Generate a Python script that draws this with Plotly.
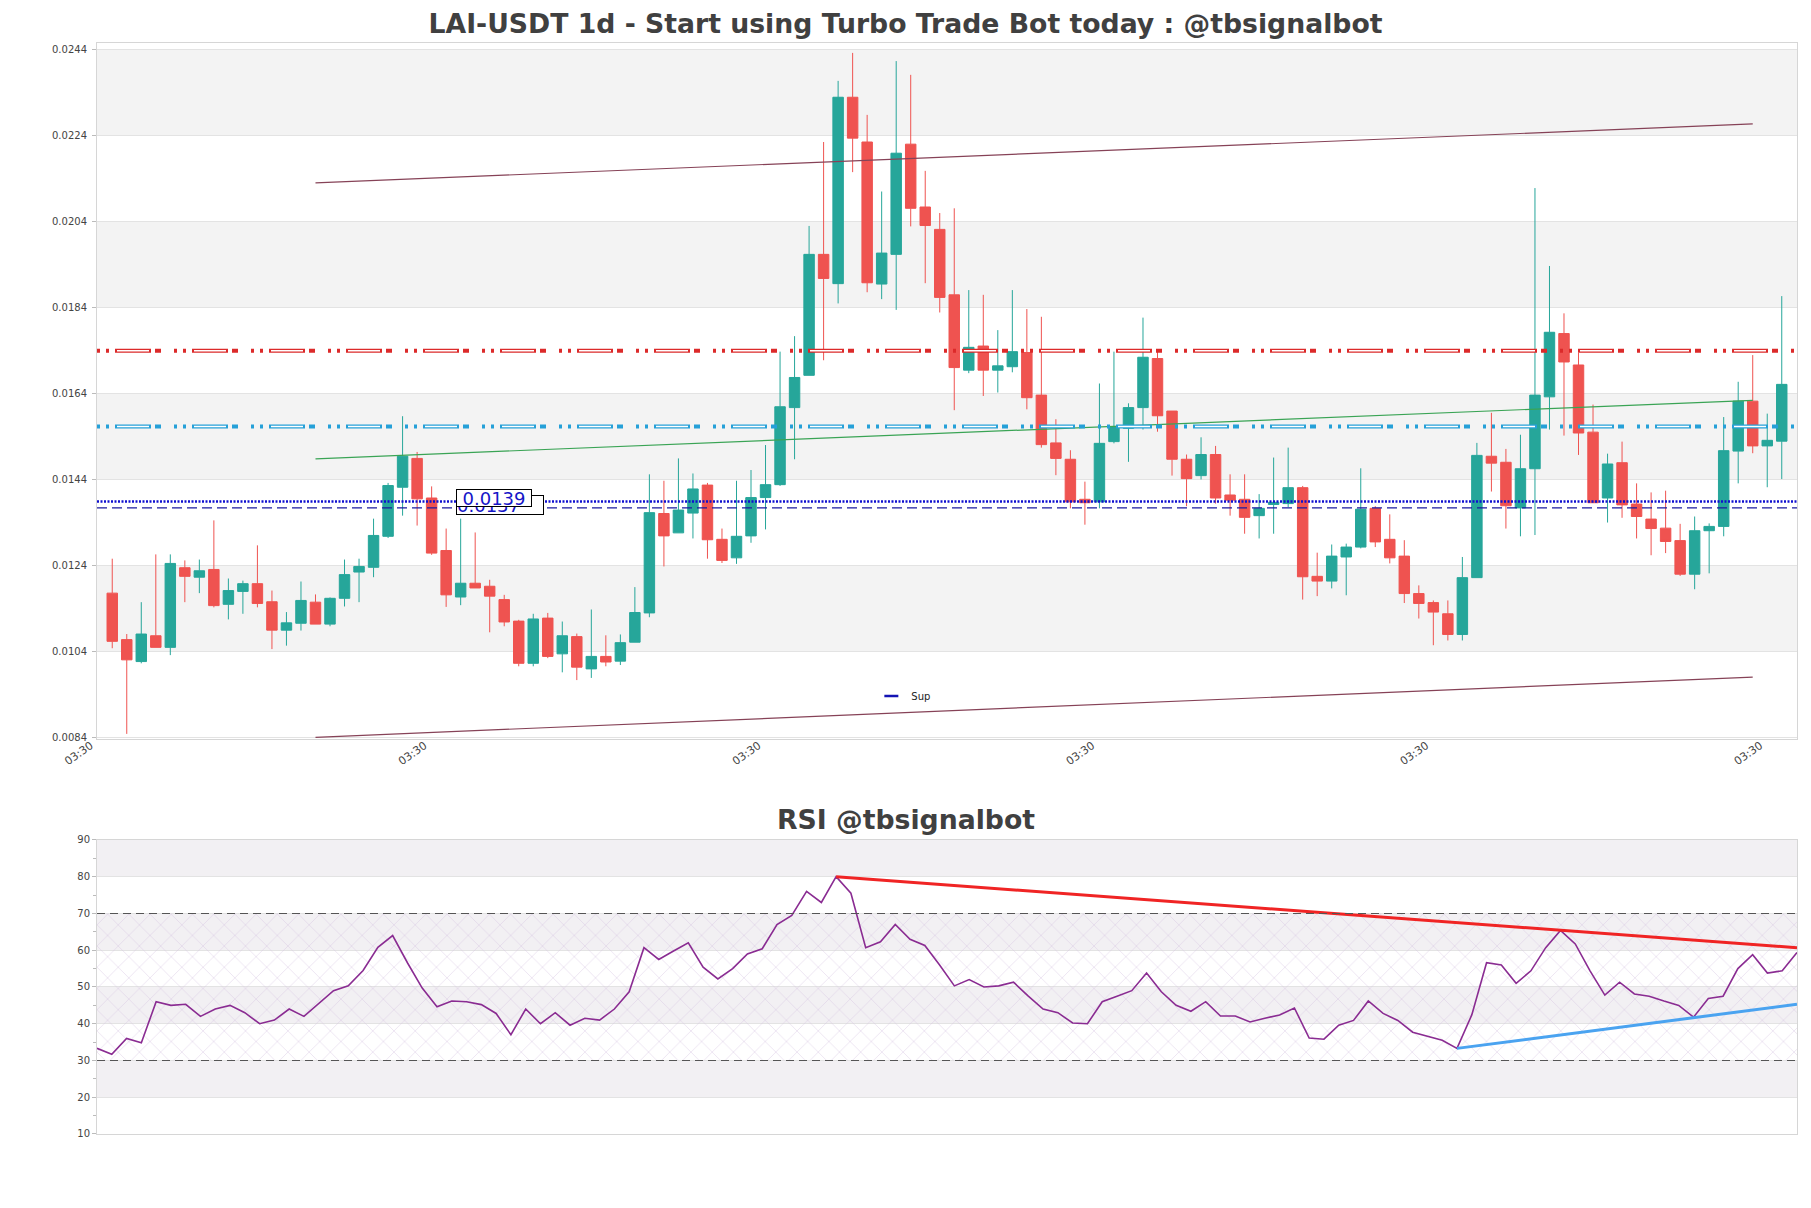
import plotly.graph_objects as go

# -------------------------------------
# Daily candles (index 0..115)
# -------------------------------------
opens = [0.01176, 0.01068, 0.01017, 0.01077, 0.01050, 0.01235, 0.01213, 0.01231, 0.01150, 0.01180,
         0.01198, 0.01156, 0.01090, 0.01106, 0.01155, 0.01104, 0.01164, 0.01225, 0.01236, 0.01308,
         0.01422, 0.01489, 0.01397, 0.01275, 0.01167, 0.01199, 0.01192, 0.01161, 0.01111, 0.01013,
         0.01118, 0.01035, 0.01075, 0.01000, 0.01029, 0.01018, 0.01062, 0.01130, 0.01361, 0.01316,
         0.01362, 0.01427, 0.01301, 0.01258, 0.01309, 0.01398, 0.01428, 0.01607, 0.01682, 0.01963,
         0.01895, 0.02328, 0.02224, 0.01894, 0.01963, 0.02219, 0.02073, 0.02021, 0.01869, 0.01694,
         0.01750, 0.01694, 0.01702, 0.01735, 0.01636, 0.01525, 0.01487, 0.01394, 0.01388, 0.01528,
         0.01559, 0.01607, 0.01721, 0.01599, 0.01487, 0.01449, 0.01498, 0.01404, 0.01394, 0.01356,
         0.01382, 0.01384, 0.01421, 0.01215, 0.01204, 0.01260, 0.01283, 0.01373, 0.01301, 0.01262,
         0.01175, 0.01154, 0.01128, 0.01080, 0.01212, 0.01494, 0.01480, 0.01374, 0.01465, 0.01632,
         0.01779, 0.01706, 0.01550, 0.01397, 0.01479, 0.01383, 0.01348, 0.01327, 0.01298, 0.01220,
         0.01321, 0.01331, 0.01506, 0.01622, 0.01518, 0.01529]
highs = [0.01256, 0.01081, 0.01155, 0.01266, 0.01266, 0.01252, 0.01254, 0.01345, 0.01210, 0.01205,
         0.01287, 0.01182, 0.01132, 0.01203, 0.01173, 0.01166, 0.01254, 0.01256, 0.01349, 0.01432,
         0.01587, 0.01504, 0.01424, 0.01326, 0.01349, 0.01317, 0.01207, 0.01172, 0.01114, 0.01128,
         0.01130, 0.01110, 0.01082, 0.01138, 0.01078, 0.01080, 0.01190, 0.01452, 0.01437, 0.01489,
         0.01454, 0.01432, 0.01326, 0.01437, 0.01462, 0.01520, 0.01737, 0.01773, 0.02029, 0.02224,
         0.02366, 0.02431, 0.02287, 0.02109, 0.02412, 0.02380, 0.02157, 0.02059, 0.02070, 0.01880,
         0.01869, 0.01787, 0.01880, 0.01836, 0.01818, 0.01580, 0.01508, 0.01435, 0.01663, 0.01737,
         0.01617, 0.01816, 0.01741, 0.01599, 0.01498, 0.01538, 0.01518, 0.01452, 0.01452, 0.01406,
         0.01491, 0.01514, 0.01425, 0.01270, 0.01289, 0.01291, 0.01466, 0.01378, 0.01359, 0.01299,
         0.01194, 0.01159, 0.01159, 0.01260, 0.01525, 0.01595, 0.01511, 0.01544, 0.02117, 0.01936,
         0.01826, 0.01734, 0.01614, 0.01500, 0.01528, 0.01431, 0.01410, 0.01414, 0.01337, 0.01354,
         0.01338, 0.01585, 0.01667, 0.01729, 0.01593, 0.01866]
lows = [0.01048, 0.00849, 0.01013, 0.01050, 0.01032, 0.01155, 0.01176, 0.01143, 0.01115, 0.01128,
        0.01143, 0.01046, 0.01054, 0.01089, 0.01104, 0.01099, 0.01145, 0.01155, 0.01213, 0.01304,
        0.01356, 0.01333, 0.01265, 0.01144, 0.01148, 0.01188, 0.01085, 0.01099, 0.01006, 0.01006,
        0.01025, 0.00992, 0.00974, 0.00979, 0.01006, 0.01009, 0.01062, 0.01120, 0.01238, 0.01316,
        0.01303, 0.01256, 0.01246, 0.01244, 0.01293, 0.01324, 0.01425, 0.01487, 0.01682, 0.01717,
        0.01849, 0.02154, 0.01875, 0.01859, 0.01834, 0.02028, 0.01896, 0.01828, 0.01601, 0.01687,
        0.01634, 0.01642, 0.01689, 0.01603, 0.01514, 0.01450, 0.01373, 0.01335, 0.01373, 0.01524,
        0.01481, 0.01556, 0.01551, 0.01449, 0.01378, 0.01440, 0.01384, 0.01356, 0.01314, 0.01303,
        0.01314, 0.01376, 0.01161, 0.01169, 0.01187, 0.01171, 0.01280, 0.01283, 0.01245, 0.01153,
        0.01117, 0.01055, 0.01066, 0.01066, 0.01212, 0.01412, 0.01326, 0.01308, 0.01311, 0.01556,
        0.01542, 0.01497, 0.01386, 0.01340, 0.01351, 0.01303, 0.01264, 0.01269, 0.01216, 0.01185,
        0.01222, 0.01308, 0.01431, 0.01501, 0.01422, 0.01441]
closes = [0.01064, 0.01021, 0.01081, 0.01050, 0.01245, 0.01215, 0.01228, 0.01147, 0.01182, 0.01198,
          0.01152, 0.01090, 0.01107, 0.01159, 0.01104, 0.01164, 0.01219, 0.01238, 0.01310, 0.01426,
          0.01494, 0.01395, 0.01269, 0.01172, 0.01199, 0.01188, 0.01169, 0.01109, 0.01013, 0.01116,
          0.01029, 0.01077, 0.01004, 0.01029, 0.01016, 0.01061, 0.01131, 0.01363, 0.01309, 0.01369,
          0.01418, 0.01300, 0.01252, 0.01308, 0.01398, 0.01428, 0.01609, 0.01677, 0.01963, 0.01907,
          0.02328, 0.02233, 0.01897, 0.01966, 0.02198, 0.02070, 0.02030, 0.01863, 0.01700, 0.01747,
          0.01694, 0.01704, 0.01737, 0.01630, 0.01521, 0.01489, 0.01388, 0.01386, 0.01524, 0.01563,
          0.01607, 0.01724, 0.01588, 0.01487, 0.01442, 0.01498, 0.01397, 0.01392, 0.01352, 0.01373,
          0.01387, 0.01421, 0.01214, 0.01204, 0.01262, 0.01283, 0.01371, 0.01295, 0.01258, 0.01175,
          0.01152, 0.01132, 0.01080, 0.01212, 0.01496, 0.01478, 0.01379, 0.01465, 0.01636, 0.01782,
          0.01713, 0.01548, 0.01386, 0.01476, 0.01381, 0.01354, 0.01326, 0.01296, 0.01220, 0.01321,
          0.01331, 0.01507, 0.01622, 0.01518, 0.01531, 0.01661]

# RSI(14) per candle
rsi = [33.3, 31.7, 36.0, 34.8, 46.0, 45.0, 45.3, 42.0, 44.0, 45.0,
       43.0, 40.0, 41.0, 44.0, 42.0, 45.5, 49.0, 50.3, 54.5, 60.8,
       64.0, 56.6, 49.7, 44.6, 46.2, 46.0, 45.2, 42.8, 37.0, 44.0,
       40.0, 43.0, 39.6, 41.5, 41.0, 44.0, 48.7, 60.7, 57.5, 59.8,
       62.0, 55.4, 52.2, 55.0, 59.0, 60.4, 67.0, 69.5, 76.0, 73.0,
       80.0, 75.5, 60.7, 62.3, 67.0, 63.0, 61.3, 56.0, 50.3, 52.0,
       50.0, 50.3, 51.3, 47.5, 44.0, 43.0, 40.2, 40.0, 46.0, 47.5,
       49.0, 53.8, 48.7, 45.0, 43.4, 46.0, 42.1, 42.1, 40.5, 41.5,
       42.4, 44.3, 36.1, 35.8, 39.6, 40.9, 46.2, 42.8, 40.9, 37.7,
       36.5, 35.5, 33.3, 42.4, 56.6, 56.0, 51.0, 54.4, 60.7, 65.4,
       61.7, 54.4, 47.8, 51.3, 48.1, 47.5, 46.2, 45.0, 41.8, 46.9,
       47.5, 55.0, 58.8, 53.8, 54.4, 59.4]

idx = list(range(len(closes)))

# x ticks (every 23 candles), all fall on 03:30
tick_pos = [-1, 22, 45, 68, 91, 114]
tick_text = ["03:30", "03:30", "03:30", "03:30", "03:30", "03:30"]
price_ticks = [0.0084, 0.0104, 0.0124, 0.0144, 0.0164, 0.0184, 0.0204, 0.0224, 0.0244]
rsi_ticks = [10, 20, 30, 40, 50, 60, 70, 80, 90]

# horizontal levels
res_level = 0.01739
mid_level = 0.01563
sup_level = 0.01389
sup2_level = 0.01374

# channel / trend lines (candle index, price)
trend_x = [14, 113]
channel_top = [0.02129, 0.02266]
channel_bot = [0.00841, 0.00981]
trend_mid = [0.01488, 0.01624]

# RSI trend lines
rsi_res_x = [50, 115]
rsi_res_y = [80.0, 60.7]
rsi_sup_x = [92, 115]
rsi_sup_y = [33.3, 45.3]

FONT = "DejaVu Sans"
TXT = "#444444"
GRID = "#e3e3e3"
BAND = "#f3f3f3"
TITLE_SIZE = 26.7

fig = go.Figure()

# -------------------------------------
# Main candle panel
# -------------------------------------
fig.add_trace(go.Candlestick(
  x=idx, open=opens, high=highs, low=lows, close=closes,
  increasing=dict(line=dict(color="#26a69a", width=1), fillcolor="#26a69a"),
  decreasing=dict(line=dict(color="#ef5350", width=1), fillcolor="#ef5350"),
  whiskerwidth=0, showlegend=False, xaxis="x", yaxis="y",
))

for ys, col in [(channel_top, "#864257"), (channel_bot, "#864257"), (trend_mid, "#3aa455")]:
  fig.add_trace(go.Scatter(
    x=trend_x, y=ys, mode="lines", line=dict(color=col, width=1.2),
    showlegend=False, xaxis="x", yaxis="y",
  ))

# legend entry only
fig.add_trace(go.Scatter(
  x=[None], y=[None], mode="markers", name="Sup",
  marker=dict(symbol="line-ew-open", size=10, color="#1414b4",
              line=dict(color="#1414b4", width=2.5)),
  xaxis="x", yaxis="y",
))

# -------------------------------------
# RSI panel
# -------------------------------------
fig.add_trace(go.Scatter(
  x=[0, 115], y=[30, 30], mode="lines", line=dict(width=0),
  showlegend=False, xaxis="x2", yaxis="y2",
))
fig.add_trace(go.Scatter(
  x=[0, 115], y=[70, 70], mode="lines", line=dict(width=0), fill="tonexty",
  fillcolor="rgba(0,0,0,0)",
  fillpattern=dict(shape="x", fgcolor="#d2bfdf", bgcolor="rgba(0,0,0,0)", size=15, solidity=0.1),
  showlegend=False, xaxis="x2", yaxis="y2",
))
fig.add_trace(go.Scatter(
  x=idx, y=rsi, mode="lines", line=dict(color="#8a2c92", width=1.6),
  showlegend=False, xaxis="x2", yaxis="y2",
))
fig.add_trace(go.Scatter(
  x=rsi_res_x, y=rsi_res_y, mode="lines", line=dict(color="#f02424", width=3),
  showlegend=False, xaxis="x2", yaxis="y2",
))
fig.add_trace(go.Scatter(
  x=rsi_sup_x, y=rsi_sup_y, mode="lines", line=dict(color="#4aa3f0", width=3),
  showlegend=False, xaxis="x2", yaxis="y2",
))

# -------------------------------------
# Bands and levels
# -------------------------------------
gray_price = [(0.0104, 0.0124), (0.0144, 0.0164), (0.0184, 0.0204), (0.0224, 0.0244)]
for lo, hi in gray_price:
  fig.add_shape(type="rect", xref="x domain", yref="y", x0=0, x1=1, y0=lo, y1=hi,
                fillcolor=BAND, line=dict(width=0), layer="below")
gray_rsi = [(20, 30), (40, 50), (60, 70), (80, 90)]
for lo, hi in gray_rsi:
  fig.add_shape(type="rect", xref="x2 domain", yref="y2", x0=0, x1=1, y0=lo, y1=hi,
                fillcolor="#f2f0f3", line=dict(width=0), layer="below")

for lvl in [30, 70]:
  fig.add_shape(type="line", xref="x2 domain", yref="y2", x0=0, x1=1, y0=lvl, y1=lvl,
                line=dict(color="#555555", width=1.2, dash="8px,5px"))

# patterned resistance / mid levels: coloured dash with white core on the long pieces
for lvl, col in [(res_level, "#dc2a2a"), (mid_level, "#25a0d8")]:
  fig.add_shape(type="line", xref="x domain", yref="y", x0=0, x1=1, y0=lvl, y1=lvl,
                line=dict(color=col, width=4, dash="3px,6px,3px,6px,36px,4px,6px,13px"))
  fig.add_shape(type="line", xref="x domain", yref="y", x0=0, x1=1, y0=lvl, y1=lvl,
                line=dict(color="white", width=1.4, dash="0px,20px,32px,25px"))

fig.add_shape(type="line", xref="x domain", yref="y", x0=0, x1=1, y0=sup_level, y1=sup_level,
              line=dict(color="#1010d0", width=2.5, dash="2px,1.5px"))
fig.add_shape(type="line", xref="x domain", yref="y", x0=0, x1=1, y0=sup2_level, y1=sup2_level,
              line=dict(color="#1a1aa0", width=1.3, dash="10px,5px"))

# price labels (back one mostly hidden)
fig.add_annotation(x=26.7, y=0.013807, xref="x", yref="y", text="0.0137", width=86, height=18,
                   align="left", showarrow=False, font=dict(family=FONT, size=18, color="#1515c8"),
                   bgcolor="white", bordercolor="black", borderwidth=1, borderpad=0)
fig.add_annotation(x=26.3, y=0.01397, xref="x", yref="y", text="0.0139", width=74, height=16,
                   showarrow=False, font=dict(family=FONT, size=18, color="#1515c8"),
                   bgcolor="white", bordercolor="black", borderwidth=1, borderpad=0)

fig.add_annotation(x=0.4756, y=0.288, xref="paper", yref="paper", text="<b>RSI @tbsignalbot</b>",
                   showarrow=False, yanchor="middle",
                   font=dict(family=FONT, size=TITLE_SIZE, color="#404040"))

axis_common = dict(showline=True, mirror=True, linecolor="#d6d6d6", linewidth=1,
                   zeroline=False, tickfont=dict(family=FONT, size=10, color=TXT))

# page body keeps an 8px margin, so the figure is 8px smaller and margins shifted
fig.update_layout(
  width=1803, height=1200,
  margin=dict(l=89, r=14, t=35, b=74),
  paper_bgcolor="white", plot_bgcolor="white",
  font=dict(family=FONT, color=TXT),
  boxgap=0.28, boxgroupgap=0,
  title=dict(text="<b>LAI-USDT 1d - Start using Turbo Trade Bot today : @tbsignalbot</b>",
             x=0.4978, xref="container", xanchor="center", y=1 - 16 / 1200, yanchor="middle",
             font=dict(family=FONT, size=TITLE_SIZE, color="#404040")),
  showlegend=True,
  legend=dict(x=0.4555, y=0.4015, xanchor="left", yanchor="middle", bgcolor="rgba(0,0,0,0)",
              font=dict(family=FONT, size=10, color="#222222")),
  xaxis=dict(domain=[0, 1], anchor="y", range=[-1.05, 116.05], rangeslider=dict(visible=False),
             tickvals=tick_pos, ticktext=tick_text, tickangle=-35, showgrid=False, ticks="",
             ticklabelshift=-7, ticklabelstandoff=-5,
             showline=True, mirror=True, linecolor="#d6d6d6", linewidth=1, zeroline=False,
             tickfont=dict(family=FONT, size=11, color=TXT)),
  yaxis=dict(domain=[0.362, 1], anchor="x", range=[0.00837, 0.02454], tickvals=price_ticks,
             tickformat=".4f", showgrid=True, gridcolor=GRID, ticks="outside", ticklen=4,
             tickcolor="#bbbbbb", ticklabelstandoff=3, **axis_common),
  xaxis2=dict(domain=[0, 1], anchor="y2", range=[0, 115], showticklabels=False, showgrid=False,
              ticks="", **axis_common),
  yaxis2=dict(domain=[0, 0.2695], anchor="x2", range=[10, 90], tickvals=rsi_ticks,
              showgrid=True, gridcolor=GRID, ticks="outside", ticklen=4, tickcolor="#bbbbbb",
              minor=dict(dtick=5, ticks="outside", ticklen=3, tickcolor="#bbbbbb", showgrid=False),
              **axis_common),
)

fig.write_html("out.html")
